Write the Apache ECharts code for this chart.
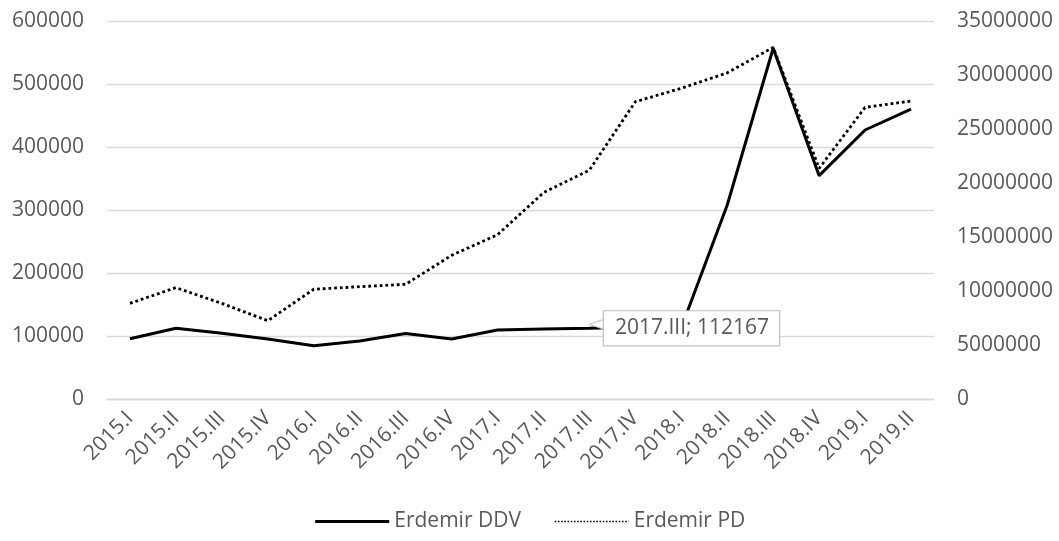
<!DOCTYPE html>
<html>
<head>
<meta charset="utf-8">
<script src="https://cdn.jsdelivr.net/npm/echarts@6/dist/echarts.min.js"></script>
<style>html,body{margin:0;padding:0;background:#fff}#c{width:1059px;height:541px}</style>
</head>
<body>
<div id="c"></div>
<script>
const categories = ['2015.I','2015.II','2015.III','2015.IV','2016.I','2016.II','2016.III','2016.IV','2017.I','2017.II','2017.III','2017.IV','2018.I','2018.II','2018.III','2018.IV','2019.I','2019.II'];
const ddv = [95700, 112200, 104200, 95200, 84600, 92000, 104000, 95200, 109500, 111000, 112167, 114000, 113000, 308000, 556700, 354500, 427000, 460300];
const pd = [8860000, 10310000, 8850000, 7250000, 10160000, 10400000, 10620000, 13300000, 15210000, 19100000, 21200000, 27530000, 28770000, 30200000, 32560000, 21360000, 27000000, 27590000];
const seriesNames = ['Erdemir DDV', 'Erdemir PD'];
const calloutIndex = 10;

const FONT = "'Open Sans', 'Noto Sans', sans-serif";
const GREY = '#595959';
const plain = v => String(v);

const chart = echarts.init(document.getElementById('c'), null, {renderer: 'canvas'});
chart.setOption({
  animation: false,
  backgroundColor: '#ffffff',
  textStyle: {fontFamily: FONT},
  grid: {left: 107, right: 125, top: 21, bottom: 142, containLabel: false},
  legend: {
    data: [
      {name: seriesNames[0], lineStyle: {width: 3, type: 'solid'}},
      {name: seriesNames[1], lineStyle: {width: 1.6, type: [1.6, 1.6]}}
    ],
    top: 506,
    left: 'center',
    itemWidth: 74,
    itemHeight: 14,
    itemGap: 33,
    itemStyle: {opacity: 0},
    textStyle: {fontFamily: FONT, fontSize: 21, color: GREY}
  },
  xAxis: {
    type: 'category',
    data: categories,
    boundaryGap: true,
    axisLine: {show: true, lineStyle: {color: '#d9d9d9', width: 1.3}},
    axisTick: {show: false},
    axisLabel: {rotate: 45, fontSize: 21, color: GREY, fontFamily: FONT, margin: 16, padding: [26, 0, 0, 0], interval: 0}
  },
  yAxis: [{
    type: 'value', min: 0, max: 600000, interval: 100000, position: 'left',
    axisLine: {show: false}, axisTick: {show: false},
    splitLine: {lineStyle: {color: '#d9d9d9', width: 1.3}},
    axisLabel: {fontSize: 21, color: GREY, fontFamily: FONT, margin: 23, formatter: plain}
  }, {
    type: 'value', min: 0, max: 35000000, interval: 5000000, position: 'right',
    axisLine: {show: false}, axisTick: {show: false},
    splitLine: {show: false},
    axisLabel: {fontSize: 21, color: GREY, fontFamily: FONT, margin: 23, formatter: plain}
  }],
  series: [{
    name: seriesNames[0],
    type: 'line',
    yAxisIndex: 0,
    data: ddv,
    symbol: 'none',
    lineStyle: {color: '#000000', width: 3},
    itemStyle: {color: '#000000'},
    z: 3,
    markPoint: {
      silent: true,
      data: [{
        coord: [categories[calloutIndex], ddv[calloutIndex]],
        symbol: 'triangle',
        symbolRotate: 90,
        symbolSize: [11, 16],
        symbolOffset: [8, -4],
        itemStyle: {color: '#ffffff', borderColor: '#bfbfbf', borderWidth: 1.2},
        label: {show: false}
      }, {
        coord: [categories[calloutIndex], ddv[calloutIndex]],
        symbol: 'rect',
        symbolSize: 1,
        itemStyle: {color: 'rgba(0,0,0,0)', borderWidth: 0},
        label: {
          show: true,
          position: 'right',
          distance: 14,
          formatter: categories[calloutIndex] + '; ' + ddv[calloutIndex],
          fontFamily: FONT,
          fontSize: 21,
          color: GREY,
          backgroundColor: '#ffffff',
          borderColor: '#bfbfbf',
          borderWidth: 1.2,
          padding: [7, 10, 6, 11]
        }
      }]
    }
  }, {
    name: seriesNames[1],
    type: 'line',
    yAxisIndex: 1,
    data: pd,
    symbol: 'none',
    lineStyle: {color: '#000000', width: 2.8, type: [2.8, 2.9], cap: 'butt'},
    itemStyle: {color: '#000000'},
    z: 2
  }]
});
</script>
</body>
</html>
